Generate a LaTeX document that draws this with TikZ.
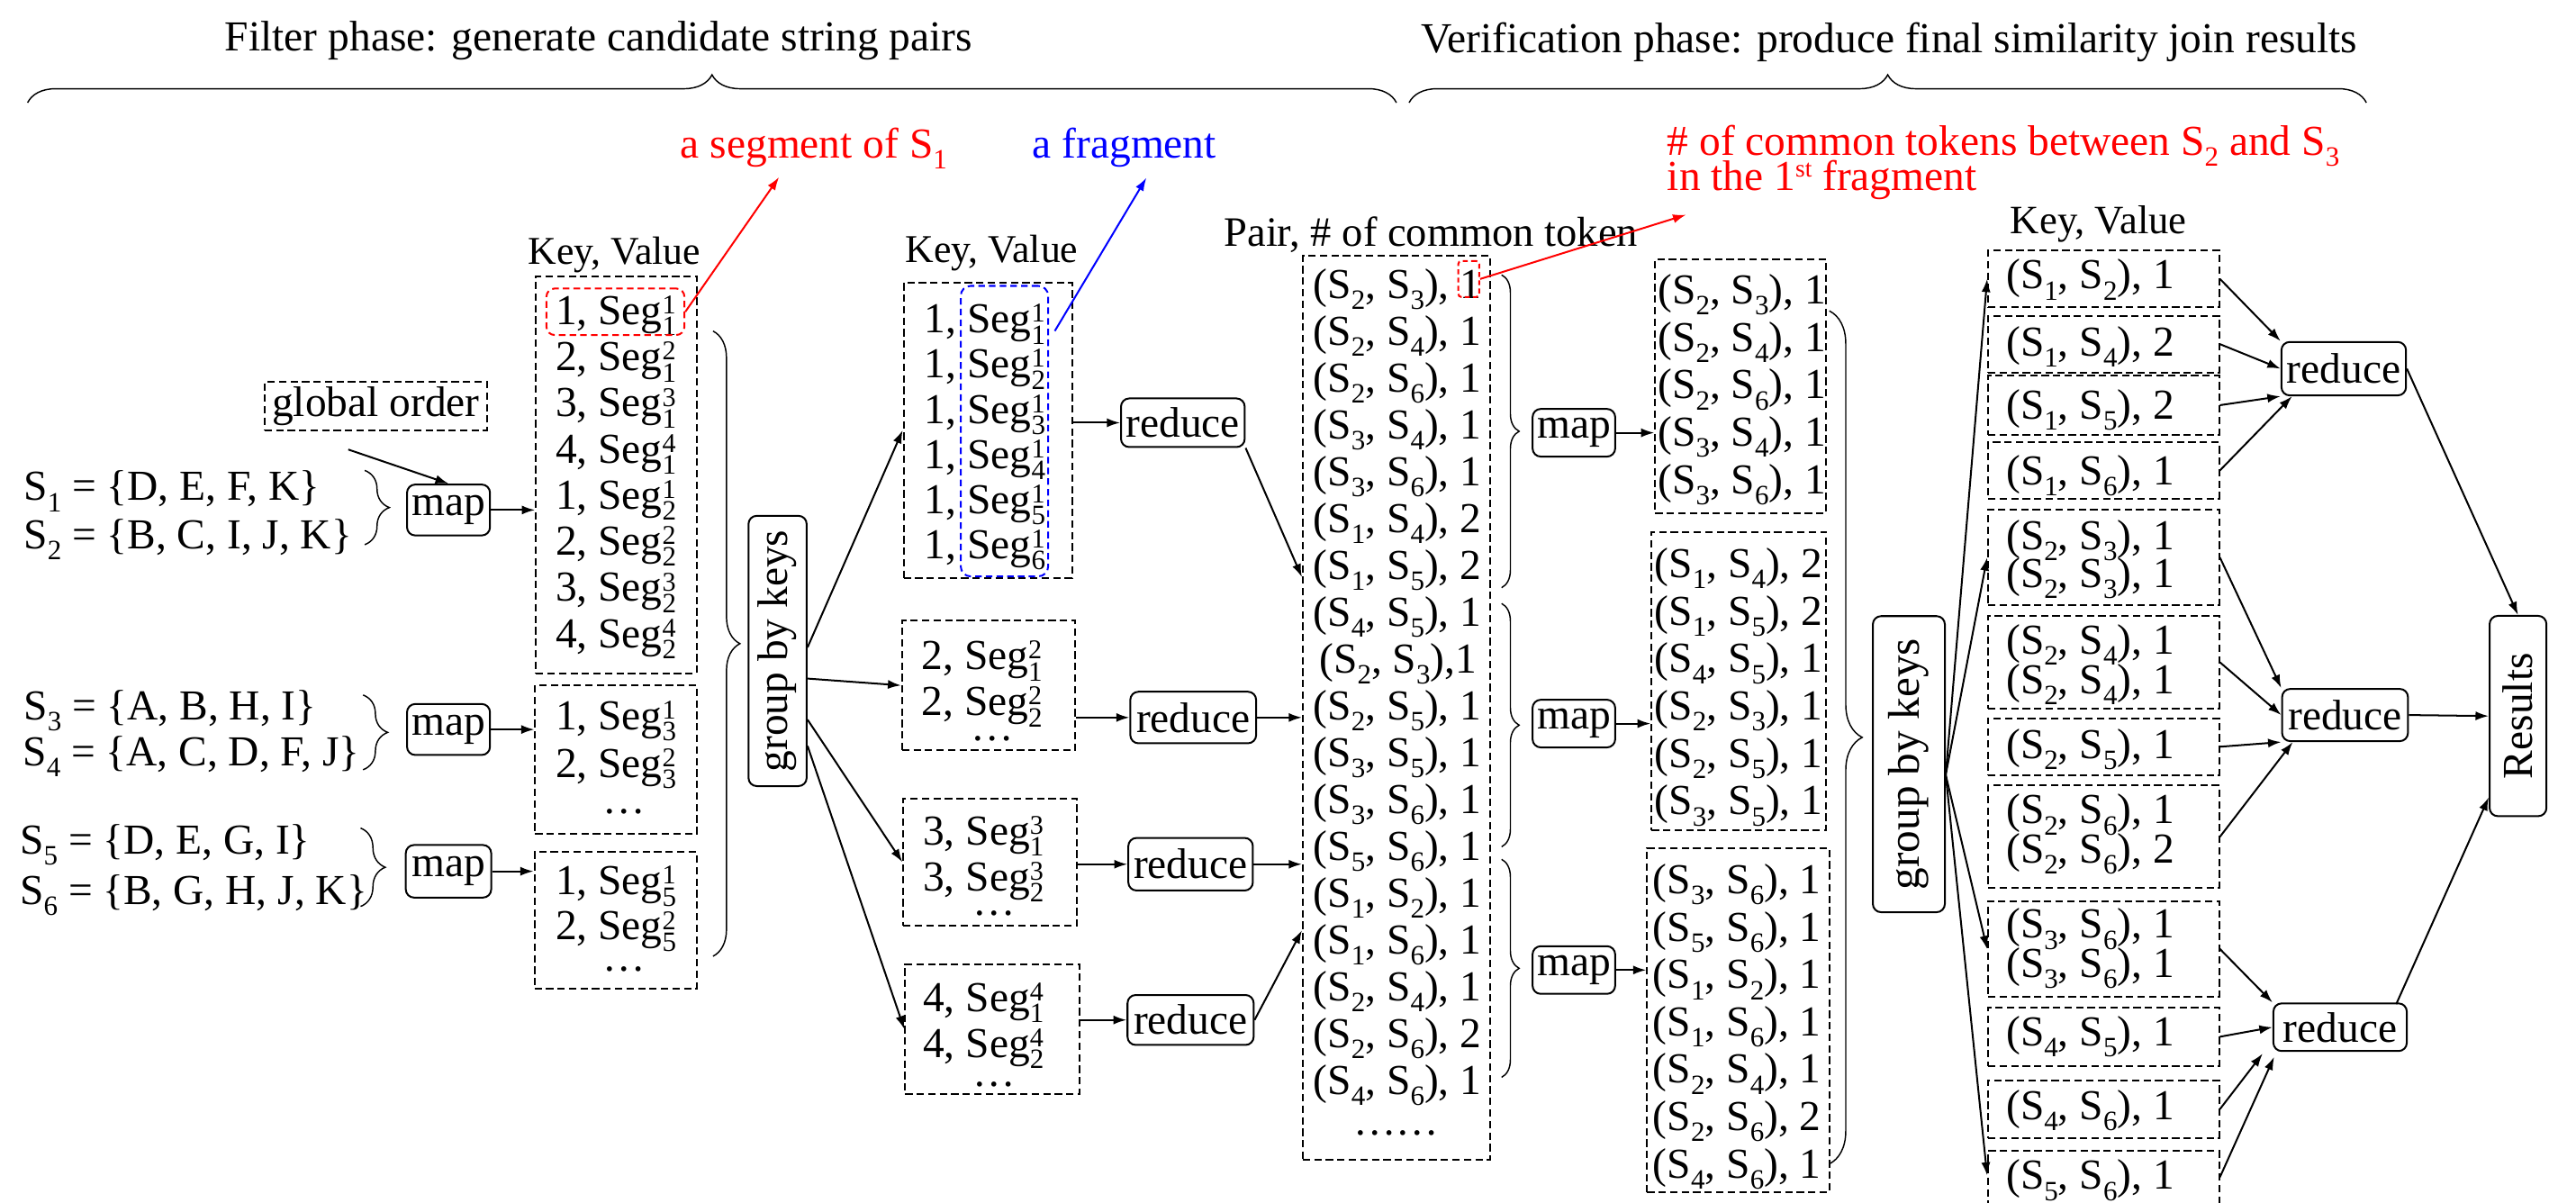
\documentclass[tikz,border=0pt]{standalone}
\usepackage{fontspec}
\usepackage{graphicx}
\setmainfont{Liberation Serif}
\usetikzlibrary{arrows.meta,decorations.pathreplacing,calc}

\newcommand{\fsz}[1]{\fontsize{#1}{#1}\selectfont}
\newcommand{\supx}[1]{\raisebox{0.25em}{\fontsize{16.5}{16.5}\selectfont #1}}
\newcommand{\subx}[1]{\raisebox{-0.26em}{\fontsize{17}{17}\selectfont #1}}
\newcommand{\Sg}[2]{Seg\rlap{\supx{#1}}\subx{#2}}
\newcommand{\Sx}[1]{S\subx{#1}}
\newcommand{\prr}[3]{(\Sx{#1}, \Sx{#2}), #3}

\tikzset{
  dbox/.style={draw, dash pattern=on 4.5pt off 2.5pt, line width=1.1pt, inner sep=0pt},
  rbox/.style={draw, rounded corners=5pt, line width=1.1pt, inner sep=0pt, font=\fsz{26}},
  rowt/.style={anchor=base west, inner sep=0pt, font=\fsz{26}},
  lbl/.style={anchor=base, inner sep=0pt},
  arr/.style={line width=1.1pt, -{Latex[length=8pt,width=5.5pt]}},
  brc/.style={decorate, decoration={brace, amplitude=#1}, line width=0.8pt},
}

\begin{document}
\begin{tikzpicture}[x=1pt,y=-1pt]
\fill[white] (0,0) rectangle (1568,732);
\useasboundingbox (0,0) rectangle (1568,732);

% titles and top braces
\node[lbl, font=\fsz{26}] (t1) at (364.4,31) {Filter phase: generate candidate string pairs};
\node[lbl, font=\fsz{26}] (t2) at (1150,32) {Verification phase: produce final similarity join results};
\draw[brc=17pt] (16.8,62.5) -- (850,62.5);
\draw[brc=17pt] (857.7,62.5) -- (1440.4,62.5);

% inputs
\node[dbox, font=\fsz{26}, minimum width=135.5, minimum height=29.3] (go) at (228.75,247.15) {global order};
\node[rowt] (s1) at (14.3,304.6) {\Sx{1} = \{D, E, F, K\}};
\node[rowt] (s2) at (14.3,334.0) {\Sx{2} = \{B, C, I, J, K\}};
\node[rowt] (s3) at (14.3,438.0) {\Sx{3} = \{A, B, H, I\}};
\node[rowt] (s4) at (13.8,466.1) {\Sx{4} = \{A, C, D, F, J\}};
\node[rowt] (s5) at (12.0,519.9) {\Sx{5} = \{D, E, G, I\}};
\node[rowt] (s6) at (12.0,550.6) {\Sx{6} = \{B, G, H, J, K\}};
\draw[brc=15pt] (222,286.3) -- (222,331.5);
\draw[brc=15pt] (221,423) -- (221,468.5);
\draw[brc=15pt] (219.5,504) -- (219.5,551.7);
\node[rbox, minimum width=50.5, minimum height=31] (m1) at (273,310.4) {map};
\node[rbox, minimum width=50.5, minimum height=31] (m2) at (273,444) {map};
\node[rbox, minimum width=52, minimum height=32] (m3) at (273,530.3) {map};
\coordinate (goS) at (212,273.6);
\draw[arr] (goS) -- (m1.north);

% column 1
\node[lbl, font=\fsz{24}] (kv1) at (374,161) {Key, Value};
\node[dbox, minimum width=97.8, minimum height=241.8] (c1a) at (375.1,288.9) {};
\node[dbox, minimum width=98.2, minimum height=90.5] (c1b) at (374.9,462.25) {};
\node[dbox, minimum width=98.7, minimum height=82.9] (c1c) at (374.65,560.05) {};
\foreach \t [count=\i] in {{1, \Sg{1}{1}},{2, \Sg{2}{1}},{3, \Sg{3}{1}},{4, \Sg{4}{1}},{1, \Sg{1}{2}},{2, \Sg{2}{2}},{3, \Sg{3}{2}},{4, \Sg{4}{2}}}
  \node[rowt] (c1a-\i) at (338,{197.6+28.07*(\i-1)}) {\t};
\node[rowt] (c1b-1) at (338,444.1) {1, \Sg{1}{3}};
\node[rowt] (c1b-2) at (338,473.1) {2, \Sg{2}{3}};
\node[lbl, font=\fsz{26}] (c1b-d) at (380,495) {\dots};
\node[rowt] (c1c-1) at (338,544.6) {1, \Sg{1}{5}};
\node[rowt] (c1c-2) at (338,572.1) {2, \Sg{2}{5}};
\node[lbl, font=\fsz{26}] (c1c-d) at (380,591) {\dots};
\node[draw=red, dash pattern=on 4pt off 2.5pt, line width=1.1pt, rounded corners=5pt, minimum width=84, minimum height=28.3, inner sep=0] (rs) at (374.6,189.75) {};
\draw[arr] (m1.east) -- (m1.east -| c1a.west);
\draw[arr] (m2.east) -- (m2.east -| c1b.west);
\draw[arr] (m3.east) -- (m3.east -| c1c.west);
\draw[brc=16.4pt] (434,201.5) -- (434,582);

% group by keys 1
\node[rbox, minimum width=35.4, minimum height=164.5] (g1) at (473.3,396.2) {\rotatebox{90}{group by keys}};

% column 2
\node[lbl, font=\fsz{24}] (kv2) at (603.7,160) {Key, Value};
\node[dbox, minimum width=102.5, minimum height=179.7] (c2a) at (601.25,261.85) {};
\node[dbox, minimum width=105.5, minimum height=78.7] (c2b) at (601.75,417.15) {};
\node[dbox, minimum width=105.7, minimum height=77.4] (c2c) at (602.65,524.7) {};
\node[dbox, minimum width=106, minimum height=79.3] (c2d) at (604,626.35) {};
\foreach \k in {1,...,6}
  \node[rowt] (c2a-\k) at (562.6,{202.6+27.5*(\k-1)}) {1, \Sg{1}{\k}};
\node[rowt] (c2b-1) at (560.8,407.6) {2, \Sg{2}{1}};
\node[rowt] (c2b-2) at (560.8,435.6) {2, \Sg{2}{2}};
\node[lbl, font=\fsz{26}] (c2b-d) at (604,451) {\dots};
\node[rowt] (c2c-1) at (561.7,514.1) {3, \Sg{3}{1}};
\node[rowt] (c2c-2) at (561.7,542.1) {3, \Sg{3}{2}};
\node[lbl, font=\fsz{26}] (c2c-d) at (605,557) {\dots};
\node[rowt] (c2d-1) at (561.7,615.6) {4, \Sg{4}{1}};
\node[rowt] (c2d-2) at (561.7,643.6) {4, \Sg{4}{2}};
\node[lbl, font=\fsz{26}] (c2d-d) at (605,661) {\dots};
\node[draw=blue, dash pattern=on 4pt off 2.5pt, line width=1.1pt, rounded corners=6pt, minimum width=53.2, minimum height=176.8, inner sep=0] (bf) at (611.4,262.4) {};
\draw[arr] ($(g1.east)+(0,-2.2)$) -- (c2a.west);
\draw[arr] ($(g1.east)+(0,16.8)$) -- (c2b.west);
\draw[arr] ($(g1.east)+(0,41.8)$) -- (c2c.west);
\draw[arr] ($(g1.east)+(0,57.8)$) -- (c2d.west);

% reduce (filter)
\node[rbox, minimum width=75.3, minimum height=29.6] (r1) at (720,257.3) {reduce};
\node[rbox, minimum width=76.6, minimum height=31.4] (r2) at (726.3,436.7) {reduce};
\node[rbox, minimum width=75.8, minimum height=32] (r3) at (724.7,526) {reduce};
\node[rbox, minimum width=76.8, minimum height=30.4] (r4) at (724.7,620.8) {reduce};
\draw[arr] (r1.west -| c2a.east) -- (r1.west);
\draw[arr] (r2.west -| c2b.east) -- (r2.west);
\draw[arr] (r3.west -| c2c.east) -- (r3.west);
\draw[arr] (r4.west -| c2d.east) -- (r4.west);

% column 3
\node[lbl, font=\fsz{25.5}] (pl) at (871,150) {Pair, \# of common token};
\node[dbox, minimum width=114, minimum height=549.9] (c3) at (850,430.75) {};
\foreach \t [count=\i] in {{\prr{2}{3}{1}},{\prr{2}{4}{1}},{\prr{2}{6}{1}},{\prr{3}{4}{1}},{\prr{3}{6}{1}},{\prr{1}{4}{2}},{\prr{1}{5}{2}},{\prr{4}{5}{1}},{\hspace{3.6pt}(\Sx{2}, \Sx{3}),1},{\prr{2}{5}{1}},{\prr{3}{5}{1}},{\prr{3}{6}{1}},{\prr{5}{6}{1}},{\prr{1}{2}{1}},{\prr{1}{6}{1}},{\prr{2}{4}{1}},{\prr{2}{6}{2}},{\prr{4}{6}{1}}}
  \node[rowt] (c3-\i) at (799.3,{181.7+28.5*(\i-1)}) {\t};
\node[lbl, font=\fsz{26}] (c3-d) at (850,691) {\dots\dots};
\node[draw=red, dash pattern=on 3pt off 2pt, line width=1.1pt, rounded corners=2pt, minimum width=12.8, minimum height=22, inner sep=0] (rc) at (894,169.8) {};
\draw[arr] (r1.south east) -- ($(c3.north west)+(0,196)$);
\draw[arr] (r2.east) -- (r2.east -| c3.west);
\draw[arr] (r3.east) -- (r3.east -| c3.west);
\draw[arr] (r4.east) -- ($(c3.north west)+(0,411)$);

% braces and maps (verification)
\draw[brc=10.7pt] (914,167.3) -- (914,357.7);
\draw[brc=10.7pt] (914,367.3) -- (914,515.4);
\draw[brc=10.7pt] (914,523) -- (914,655.7);
\node[rbox, minimum width=50.3, minimum height=29] (mA) at (958,263.4) {map};
\node[rbox, minimum width=50.3, minimum height=29] (mB) at (958,440.4) {map};
\node[rbox, minimum width=50.3, minimum height=29] (mC) at (958,590.4) {map};

% column 4
\node[dbox, minimum width=104.1, minimum height=154.6] (c4a) at (1059.55,235) {};
\node[dbox, minimum width=106.3, minimum height=181.5] (c4b) at (1058.45,414.55) {};
\node[dbox, minimum width=110.9, minimum height=209.7] (c4c) at (1058.05,620.85) {};
\foreach \t [count=\i] in {{\prr{2}{3}{1}},{\prr{2}{4}{1}},{\prr{2}{6}{1}},{\prr{3}{4}{1}},{\prr{3}{6}{1}}}
  \node[rowt] (c4a-\i) at (1009,{185+28.85*(\i-1)}) {\t};
\foreach \t [count=\i] in {{\prr{1}{4}{2}},{\prr{1}{5}{2}},{\prr{4}{5}{1}},{\prr{2}{3}{1}},{\prr{2}{5}{1}},{\prr{3}{5}{1}}}
  \node[rowt] (c4b-\i) at (1007,{351.6+28.85*(\i-1)}) {\t};
\foreach \t [count=\i] in {{\prr{3}{6}{1}},{\prr{5}{6}{1}},{\prr{1}{2}{1}},{\prr{1}{6}{1}},{\prr{2}{4}{1}},{\prr{2}{6}{2}},{\prr{4}{6}{1}}}
  \node[rowt] (c4c-\i) at (1006,{543.9+28.85*(\i-1)}) {\t};
\draw[arr] (mA.east) -- (mA.east -| c4a.west);
\draw[arr] (mB.east) -- (mB.east -| c4b.west);
\draw[arr] (mC.east) -- (mC.east -| c4c.west);
\draw[brc=20pt] (1113.5,189.2) -- (1113.5,708.4);

% group by keys 2
\node[rbox, font=\fsz{27}, minimum width=43.8, minimum height=180.2] (g2) at (1161.9,465.1) {\rotatebox{90}{group by keys}};

% column 5
\node[lbl, font=\fsz{24.5}] (kv5) at (1277.4,142) {Key, Value};
\foreach \n/\cy/\h in {1/169.75/34.5, 2/209.45/34.5, 3/246.6/35.8, 4/286.3/34.2, 5/339.3/58.4, 6/403.1/56.4, 7/454.5/34.6, 8/509.3/62.4, 9/577.6/58.4, 10/631/35.8, 11/675.05/34.9, 12/730.25/59.5}
  \node[dbox, minimum width=140.6, minimum height=\h] (c5b\n) at (1280.4,\cy) {};
\node[rowt] (c5r1) at (1221,175.8) {\prr{1}{2}{1}};
\node[rowt] (c5r2) at (1221,216.7) {\prr{1}{4}{2}};
\node[rowt] (c5r3) at (1221,255.2) {\prr{1}{5}{2}};
\node[rowt] (c5r4) at (1221,294.9) {\prr{1}{6}{1}};
\node[rowt] (c5r5a) at (1221,334.6) {\prr{2}{3}{1}};
\node[rowt] (c5r5b) at (1221,357.6) {\prr{2}{3}{1}};
\node[rowt] (c5r6a) at (1221,398.2) {\prr{2}{4}{1}};
\node[rowt] (c5r6b) at (1221,422) {\prr{2}{4}{1}};
\node[rowt] (c5r7) at (1221,461.7) {\prr{2}{5}{1}};
\node[rowt] (c5r8a) at (1221,501.4) {\prr{2}{6}{1}};
\node[rowt] (c5r8b) at (1221,525.2) {\prr{2}{6}{2}};
\node[rowt] (c5r9a) at (1221,570.9) {\prr{3}{6}{1}};
\node[rowt] (c5r9b) at (1221,594.7) {\prr{3}{6}{1}};
\node[rowt] (c5r10) at (1221,636.4) {\prr{4}{5}{1}};
\node[rowt] (c5r11) at (1221,681.3) {\prr{4}{6}{1}};
\node[rowt] (c5r12) at (1221,723.8) {\prr{5}{6}{1}};
\draw[arr] ($(g2.east)+(0,6.5)$) -- (c5b1.west);
\draw[arr] ($(g2.east)+(0,6.5)$) -- (c5b5.west);
\draw[arr] ($(g2.east)+(0,6.5)$) -- (c5b9.west);
\draw[arr] ($(g2.east)+(0,6.5)$) -- ($(c5b12.north west)+(0,15.5)$);

% reduce (verification) and results
\node[rbox, minimum width=75.8, minimum height=32.5] (R1) at (1426.6,224.4) {reduce};
\node[rbox, minimum width=76.6, minimum height=31.8] (R2) at (1427.4,435.2) {reduce};
\node[rbox, minimum width=81.2, minimum height=29] (R3) at (1424.4,625.2) {reduce};
\node[rbox, minimum width=34.6, minimum height=121.9] (res) at (1532.7,435.8) {\rotatebox{90}{Results}};
\draw[arr] (c5b1.east) -- (R1.north west);
\draw[arr] (c5b2.east) -- (R1.west);
\draw[arr] (c5b3.east) -- (R1.south west);
\draw[arr] (c5b4.east) -- ($(R1.south west)+(7,0)$);
\draw[arr] (c5b5.east) -- (R2.north west);
\draw[arr] (c5b6.east) -- (R2.west);
\draw[arr] (c5b7.east) -- (R2.south west);
\draw[arr] (c5b8.east) -- ($(R2.south west)+(7,0)$);
\draw[arr] (c5b9.east) -- (R3.north west);
\draw[arr] (c5b10.east) -- (R3.west);
\draw[arr] (c5b11.east) -- ($(R3.south west)+(-6,1)$);
\draw[arr] ($(c5b12.north east)+(0,16.5)$) -- ($(R3.south west)+(1,3)$);
\draw[arr] (R1.east) -- (res.north);
\draw[arr] (R2.east) -- (res.west);
\draw[arr] ($(R3.north east)+(-7,1)$) -- ($(res.south west)+(0,-12)$);

% annotations
\node[lbl, font=\fsz{26}, text=red] (segt) at (495.4,96) {a segment of \Sx{1}};
\node[lbl, font=\fsz{26}, text=blue] (fragt) at (684.4,96) {a fragment};
\node[anchor=base west, inner sep=0pt, font=\fsz{26}, text=red] (cmt1) at (1014.7,94.5)
  {\# of common tokens between \Sx{2} and \Sx{3}};
\node[anchor=base west, inner sep=0pt, font=\fsz{26}, text=red] (cmt2) at (1014.7,116)
  {in the 1\raisebox{0.32em}{\fontsize{15}{15}\selectfont st} fragment};
\coordinate (segtip) at (474.2,107.8);
\coordinate (fragtip) at (697.8,108.2);
\coordinate (cmtip) at (1026.3,130.7);
\draw[line width=1.1pt, red, -{Latex[length=8pt,width=5.5pt]}] (rs.east) -- (segtip);
\draw[line width=1.1pt, blue, -{Latex[length=8pt,width=5.5pt]}] ($(bf.north east)+(3.5,28)$) -- (fragtip);
\draw[line width=1.1pt, red, -{Latex[length=8pt,width=5.5pt]}] (rc.east) -- (cmtip);
\end{tikzpicture}
\end{document}
